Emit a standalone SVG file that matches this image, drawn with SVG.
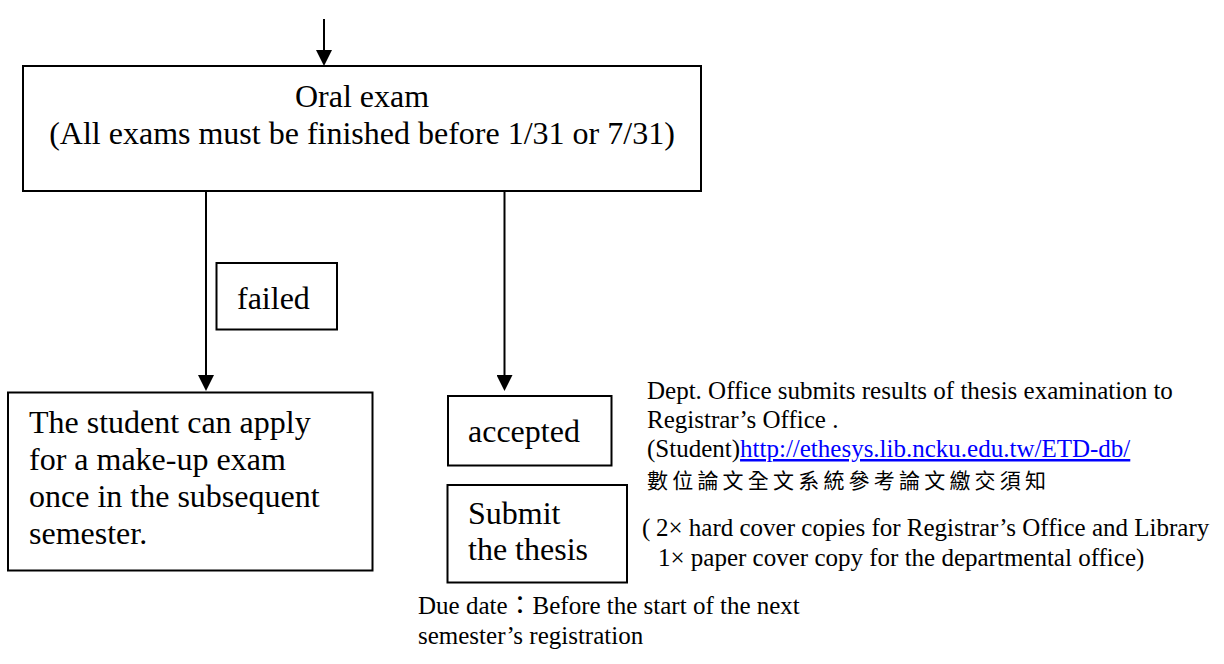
<svg xmlns="http://www.w3.org/2000/svg" width="1224" height="664" viewBox="0 0 1224 664">
<style>
.box{fill:#fff;stroke:#000;stroke-width:2}
.conn{stroke:#000;stroke-width:2;fill:none}
text{font-family:"Liberation Serif","Times New Roman","Noto Sans CJK TC",serif;fill:#000}
.big{font-size:32px}
.small{font-size:25px}
.cjk{font-family:"Noto Sans CJK TC",sans-serif;font-size:21px;letter-spacing:4.2px}
.link{fill:#0000ff;text-decoration:underline}
</style>
<defs>
<marker id="ah" markerUnits="userSpaceOnUse" markerWidth="16" markerHeight="16" refX="6" refY="8" orient="auto">
<path d="M0,0 L16,8 L0,16 z" fill="#000"/>
</marker>
</defs>
<rect width="1224" height="664" fill="#fff"/>
<g id="connectors">
<line class="conn" x1="324" y1="19" x2="324" y2="56" marker-end="url(#ah)"/>
<line class="conn" x1="206" y1="191" x2="206" y2="381" marker-end="url(#ah)"/>
<line class="conn" x1="504.5" y1="191" x2="504.5" y2="381" marker-end="url(#ah)"/>
</g>
<g id="oral-exam">
<rect class="box" x="23" y="66" width="678" height="125"/>
<text class="big" x="362" y="107" text-anchor="middle">Oral exam</text>
<text class="big" x="362" y="144" text-anchor="middle">(All exams must be finished before 1/31 or 7/31)</text>
</g>
<g id="failed">
<rect class="box" x="216.5" y="263" width="120.5" height="66.5"/>
<text class="big" x="237" y="309">failed</text>
</g>
<g id="make-up">
<rect class="box" x="8" y="392.5" width="364.5" height="178"/>
<text class="big" x="29" y="433">The student can apply</text>
<text class="big" x="29" y="470">for a make-up exam</text>
<text class="big" x="29" y="507">once in the subsequent</text>
<text class="big" x="29" y="544">semester.</text>
</g>
<g id="accepted">
<rect class="box" x="448" y="396" width="163.5" height="69.5"/>
<text class="big" x="468" y="442">accepted</text>
</g>
<g id="submit">
<rect class="box" x="447.5" y="485" width="179.5" height="97.5"/>
<text class="big" x="468" y="524">Submit</text>
<text class="big" x="468" y="560">the thesis</text>
</g>
<g id="notes">
<text class="small" x="647" y="399">Dept. Office submits results of thesis examination to</text>
<text class="small" x="647" y="428">Registrar’s Office .</text>
<text class="small" x="647" y="457">(Student)<tspan class="link">http://ethesys.lib.ncku.edu.tw/ETD-db/</tspan></text>
<text class="cjk" x="647" y="488">數位論文全文系統參考論文繳交須知</text>
<text class="small" x="642" y="536">(<tspan x="656">2× hard cover copies for Registrar’s Office and Library</tspan></text>
<text class="small" x="658" y="566">1× paper cover copy for the departmental office)</text>
<text class="small" x="418" y="614">Due date：Before the start of the next</text>
<text class="small" x="418" y="644">semester’s registration</text>
</g>
</svg>
